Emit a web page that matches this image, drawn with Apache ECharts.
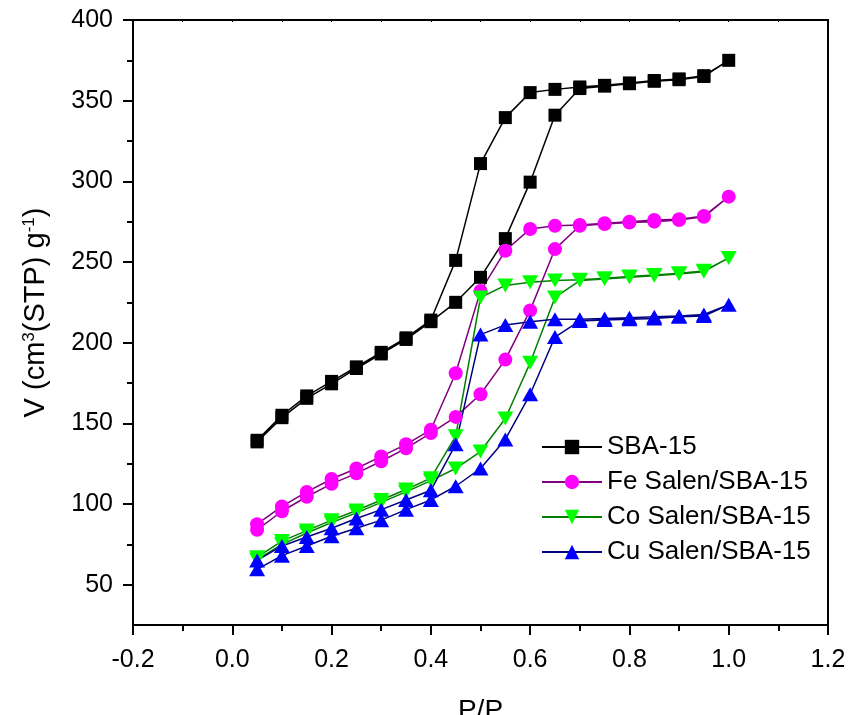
<!DOCTYPE html>
<html>
<head>
<meta charset="utf-8">
<title>N2 sorption isotherms</title>
<script src="https://cdn.jsdelivr.net/npm/echarts@6/dist/echarts.min.js"></script>
<style>
  html, body { margin: 0; padding: 0; background: #fff; }
  #chart { width: 851px; height: 715px; }
</style>
</head>
<body>
<div id="chart"></div>
<script>
// Relative pressure points: adsorption (rising) and desorption (falling) branches
const adsP = [0.05, 0.10, 0.15, 0.20, 0.25, 0.30, 0.35, 0.40, 0.45, 0.50,
              0.55, 0.60, 0.65, 0.70, 0.75, 0.80, 0.85, 0.90, 0.95, 1.00];
const desP = [0.95, 0.90, 0.85, 0.80, 0.75, 0.70, 0.65, 0.60, 0.55, 0.50,
              0.45, 0.40, 0.35, 0.30, 0.25, 0.20, 0.15, 0.10, 0.05];

// Adsorbed volume, cm3(STP)/g
const sbaAds = [138.5, 153.5, 165.5, 174.5, 184, 193, 202, 213, 225, 240.5,
                264.5, 299.5, 341, 357.5, 359, 360.5, 362, 363, 365, 375];
const sbaDes = [365.5, 363.5, 362.5, 361, 359.5, 358.5, 357, 355, 339.5, 311,
                251, 214, 203, 194, 185, 176, 167, 155, 139.5];

const feAds = [84, 95.5, 104.5, 112.5, 119, 126.5, 134.5, 144, 154, 168,
               189.5, 220, 258, 272.5, 273.5, 274.5, 275, 276, 278, 290.5];
const feDes = [278.5, 276.5, 276, 275, 274, 273, 272.5, 270.5, 257, 232,
               181, 146, 137, 129.5, 122, 115.5, 107.5, 98.5, 87.5];

const coAds = [65.5, 75, 82, 88.5, 94.5, 101, 107.5, 114.5, 122, 132.5,
               153, 187.5, 228, 238.5, 239.5, 240.5, 241.5, 242.5, 244, 252.5];
const coDes = [244.5, 243, 242, 241, 240, 239, 238.5, 237.5, 235.5, 228,
               142, 116, 109, 102.5, 96, 90, 83.5, 77, 67];

const cuAds = [59.5, 68, 74, 80, 85, 90, 96.5, 102.5, 111, 122,
               140, 168, 203.5, 213.5, 214, 214.5, 215, 216, 216.5, 223.5];
const cuDes = [217.5, 216.5, 216, 215.5, 215, 214.5, 214.5, 213, 211, 205,
               137, 108.5, 102.5, 96.5, 91, 85, 79.5, 74, 65];

const seriesNames = ['SBA-15', 'Fe Salen/SBA-15', 'Co Salen/SBA-15', 'Cu Salen/SBA-15'];

// Axis ticks
const yLabelTicks = [50, 100, 150, 200, 250, 300, 350, 400];
const yMinorTicks = [75, 125, 175, 225, 275, 325, 375];

const FONT = '"Liberation Sans", Arial, Helvetica, sans-serif';

// One closed loop per sample: adsorption up to 1.0, then desorption back down
function loop(ads, des) {
  const pts = adsP.map((p, i) => [p, ads[i]]);
  desP.forEach((p, i) => pts.push([p, des[i]]));
  return pts;
}

const downTriangle = 'path://M0,0 L10,0 L5,8.66 Z';
const upTriangle = 'path://M5,0 L10,8.66 L0,8.66 Z';

function makeSeries(name, data, symbol, size, fill, line) {
  return {
    name: name,
    type: 'line',
    data: data,
    symbol: symbol,
    symbolSize: size,
    showAllSymbol: true,
    itemStyle: { color: fill, borderWidth: 0 },
    lineStyle: { color: line, width: 1.5 },
    emphasis: { disabled: true },
    animation: false
  };
}

const chart = echarts.init(document.getElementById('chart'));
chart.setOption({
  backgroundColor: '#ffffff',
  grid: { left: 133, right: 23, top: 20, bottom: 90, outerBoundsMode: 'none', containLabel: false },
  legend: {
    orient: 'vertical',
    left: 536,
    top: 427,
    itemWidth: 60,
    itemHeight: 18,
    itemGap: 5,
    textStyle: { fontFamily: FONT, fontSize: 26, color: '#000', lineHeight: 30 },
    data: seriesNames
  },
  xAxis: [{
    type: 'value',
    position: 'bottom',
    min: -0.2,
    max: 1.2,
    interval: 0.2,
    name: 'P/P',
    nameLocation: 'middle',
    nameGap: 72,
    nameTextStyle: { fontFamily: FONT, fontSize: 28, color: '#000' },
    axisLine: { show: true, onZero: false, lineStyle: { color: '#000', width: 2 } },
    axisTick: { show: true, inside: false, length: 10, lineStyle: { color: '#000', width: 2 } },
    minorTick: { show: true, splitNumber: 2, length: 6, lineStyle: { color: '#000', width: 2 } },
    axisLabel: {
      margin: 23, fontFamily: FONT, fontSize: 25, color: '#000',
      formatter: v => v.toFixed(1)
    },
    splitLine: { show: false },
    minorSplitLine: { show: false }
  }, {
    type: 'value',
    position: 'top',
    min: -0.2,
    max: 1.2,
    interval: 0.1,
    axisLine: { show: true, onZero: false, lineStyle: { color: '#000', width: 2 } },
    axisTick: { show: true, inside: true, length: 2, lineStyle: { color: '#000', width: 1 } },
    axisLabel: { show: false },
    splitLine: { show: false }
  }],
  yAxis: [{
    type: 'value',
    position: 'left',
    min: 25,
    max: 400,
    name: 'V (cm{sup|3}(STP) g{sup|-1})',
    nameLocation: 'middle',
    nameRotate: 90,
    nameGap: 82,
    nameTextStyle: {
      fontFamily: FONT, fontSize: 29, color: '#000',
      padding: [0, 0, 0, 20],
      rich: {
        sup: { fontFamily: FONT, fontSize: 17, color: '#000', verticalAlign: 'top', padding: [0, 0, 13, 0] }
      }
    },
    axisLine: { show: true, onZero: false, lineStyle: { color: '#000', width: 2 } },
    axisTick: { show: true, inside: false, length: 10, customValues: yLabelTicks, lineStyle: { color: '#000', width: 2 } },
    axisLabel: { margin: 20, fontFamily: FONT, fontSize: 25, color: '#000', customValues: yLabelTicks },
    splitLine: { show: false }
  }, {
    type: 'value',
    position: 'left',
    min: 25,
    max: 400,
    axisLine: { show: false, onZero: false },
    axisTick: { show: true, inside: false, length: 6, customValues: yMinorTicks, lineStyle: { color: '#000', width: 2 } },
    axisLabel: { show: false },
    splitLine: { show: false }
  }, {
    type: 'value',
    position: 'right',
    min: 25,
    max: 400,
    axisLine: { show: true, onZero: false, lineStyle: { color: '#000', width: 2 } },
    axisTick: { show: false },
    axisLabel: { show: false },
    splitLine: { show: false }
  }],
  series: [
    makeSeries(seriesNames[0], loop(sbaAds, sbaDes), 'rect', 13, '#000000', '#000000'),
    makeSeries(seriesNames[1], loop(feAds, feDes), 'circle', 14, '#ff00ff', '#800080'),
    makeSeries(seriesNames[2], loop(coAds, coDes), downTriangle, [16, 14], '#00ff00', '#008000'),
    makeSeries(seriesNames[3], loop(cuAds, cuDes), upTriangle, [16, 14], '#0000ff', '#000080')
  ]
});
</script>
</body>
</html>
